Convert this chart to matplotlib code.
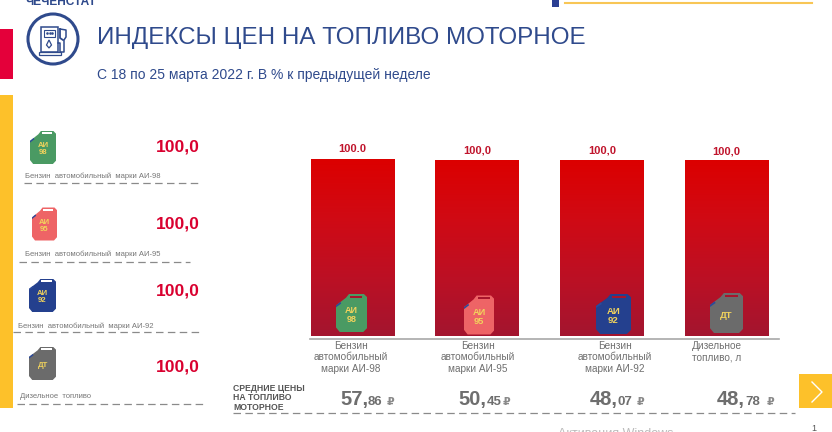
import numpy as np
import matplotlib
matplotlib.use('Agg')
import matplotlib.pyplot as plt
from matplotlib.colors import LinearSegmentedColormap
from matplotlib.patches import Polygon, Rectangle, Circle

plt.rcParams['font.family'] = ['Liberation Sans', 'DejaVu Sans']

# данные
title = 'ИНДЕКСЫ ЦЕН НА ТОПЛИВО МОТОРНОЕ'
subtitle = 'С 18 по 25 марта 2022 г. В % к предыдущей неделе'
categories = ['Бензин\nавтомобильный\nмарки АИ-98', 'Бензин\nавтомобильный\nмарки АИ-95',
              'Бензин\nавтомобильный\nмарки АИ-92', 'Дизельное\nтопливо, л']
bar_values = [100.0, 99.4, 99.2, 98.9]
bar_labels = ['100.0', '100,0', '100,0', '100,0']
side_names = ['Бензин  автомобильный  марки АИ-98', 'Бензин  автомобильный  марки АИ-95',
              'Бензин  автомобильный  марки АИ-92', 'Дизельное  топливо']
side_values = ['100,0', '100,0', '100,0', '100,0']
price_rub = ['57', '50', '48', '48']
price_kop = ['86', '45', '07', '78']
can_labels = ['АИ\n98', 'АИ\n95', 'АИ\n92', 'ДТ']
can_colors = ['#4a9a63', '#ee6466', '#24408e', '#6b6b6b']

BLUE = '#2f4a8c'
GREY = '#6f6f6f'
RED = '#d9002f'
YELLOW = '#fdc12a'

fig = plt.figure(figsize=(8.32, 4.32), dpi=100)
bg = fig.add_axes([0, 0, 1, 1])
bg.set_xlim(0, 832)
bg.set_ylim(432, 0)
bg.axis('off')


def draw_can(ax, cx, cy, w, h, color, label, slot='white', zorder=5):
    # канистра: x,y в пикселях, центр (cx, cy)
    l, r = cx - w / 2, cx + w / 2
    t, b = cy - h / 2, cy + h / 2
    pts = [(l + w * 0.12, b), (l, b - h * 0.12), (l, t + h * 0.3), (l + w * 0.32, t + h * 0.1),
           (l + w * 0.42, t), (r - w * 0.1, t), (r, t + h * 0.08), (r, b - h * 0.1), (r - w * 0.12, b)]
    ax.add_patch(Polygon(pts, closed=True, fc=color, ec='none', zorder=zorder))
    ax.add_patch(Rectangle((l + w * 0.45, t + h * 0.04), w * 0.4, h * 0.055, fc=slot, ec='none', zorder=zorder + 1))
    ax.add_patch(Polygon([(l, t + h * 0.3), (l + w * 0.14, t + h * 0.21), (l + w * 0.17, t + h * 0.25), (l, t + h * 0.35)],
                         closed=True, fc='#2c4a9a', ec='none', zorder=zorder + 1))
    ax.text(cx, cy + h * 0.05, label, ha='center', va='center', color='#f2d35c', fontsize=h * 0.17,
            fontweight='bold', linespacing=1.0, zorder=zorder + 2)


# полосы слева и сверху
bg.add_patch(Rectangle((0, 29), 13, 50, fc='#e4003a', ec='none'))
bg.add_patch(Rectangle((0, 95), 13, 313, fc=YELLOW, ec='none'))
bg.add_patch(Rectangle((551.5, 0), 7.5, 7, fc='#2b3f93', ec='none'))
bg.plot([565, 812], [3, 3], color='#f8c655', lw=1.5)
bg.text(25, 5, 'ЧЕЧЕНСТАТ', color=BLUE, fontsize=8.6, fontweight='bold', ha='left', va='baseline')

# значок заправки
bg.add_patch(Circle((53, 39), 25, fc='white', ec=BLUE, lw=2.2))
bg.add_patch(Rectangle((41, 27), 17, 25, fc='none', ec=BLUE, lw=1.1))
bg.add_patch(Rectangle((44, 30), 11, 6.5, fc='none', ec=BLUE, lw=0.8))
bg.add_patch(Rectangle((38.5, 52), 22, 2.5, fc='none', ec=BLUE, lw=0.9))
bg.add_patch(Polygon([(49, 40), (51.5, 45), (49, 48), (46.5, 45)], closed=True, fc='none', ec=BLUE, lw=0.9))
bg.plot([47, 49.5, 52], [33, 33, 33], ls='none', marker='s', ms=0.8, color=BLUE)
bg.plot([58, 60, 60, 64, 64, 66, 66, 60], [43, 43, 52, 52, 40, 37, 30, 29], color=BLUE, lw=1.1)
bg.plot([60, 60, 63], [29, 38, 40], color=BLUE, lw=1.3)

bg.text(97, 38, title, color=BLUE, fontsize=17.4, ha='left', va='center')
bg.text(97, 75, subtitle, color=BLUE, fontsize=10, ha='left', va='center')

# левый список
can_y = [147.5, 224, 295.5, 363.5]
can_x = [43, 44.5, 42.5, 42.5]
can_w = [26, 25, 27, 27]
val_y = [147, 224, 291, 367]
name_x = [25, 25, 18, 20]
name_y = [176, 254, 326, 397]
line_x = [(24, 199), (19, 190), (13, 201), (17, 205)]
line_y = [183, 262, 332, 404]
for i in range(4):
    draw_can(bg, can_x[i], can_y[i], can_w[i], 33, can_colors[i], can_labels[i])
    bg.text(200, val_y[i], side_values[i], color=RED, fontsize=12.6, fontweight='bold', ha='right', va='center')
    bg.text(name_x[i], name_y[i], side_names[i], color='#777777', fontsize=5.5, ha='left', va='center')
    bg.plot(line_x[i], [line_y[i]] * 2, color='#8a8a8a', lw=0.9, dashes=(6, 3.5))

# столбцы
ax = fig.add_axes([310 / 832, (432 - 336) / 432, 469 / 832, 186 / 432])
ax.axis('off')
cmap = LinearSegmentedColormap.from_list('grad', ['#dc0000', '#d00a14', '#bc1024', '#a3152f'])
grad = np.linspace(0, 1, 256).reshape(-1, 1)
x_pos = np.arange(len(bar_values))
bars = ax.bar(x_pos, bar_values, width=0.67, color='none')
for b, v, lab in zip(bars, bar_values, bar_labels):
    im = ax.imshow(grad, cmap=cmap, aspect='auto', zorder=2,
                   extent=(b.get_x(), b.get_x() + b.get_width(), 0, v))
    ax.text(b.get_x() + b.get_width() / 2, v + 5.5, lab, ha='center', va='center',
            color='#c0142c', fontsize=8, fontweight='bold')
ax.set_xlim(-0.34, 3.42)
ax.set_ylim(0, 105.1)

top = fig.add_axes([0, 0, 1, 1])
top.set_xlim(0, 832)
top.set_ylim(432, 0)
top.axis('off')
top.patch.set_alpha(0)

bar_cans_x = [351.5, 479, 613.5, 726.5]
bar_cans_y = [313, 315, 314, 313]
bar_cans_w = [31, 30, 35, 33]
bar_cans_h = [38, 39, 40, 40]
for i in range(4):
    draw_can(top, bar_cans_x[i], bar_cans_y[i], bar_cans_w[i], bar_cans_h[i], can_colors[i], can_labels[i], slot='#a8142c')

top.plot([310, 779], [338.6, 338.6], color='#a8a8a8', lw=1.2)
cat_x = [351, 478, 615, 717]
for i, c in enumerate(categories):
    top.text(cat_x[i], 341, c, ha='center', va='top', color=GREY, fontsize=7.2, linespacing=1.16)

top.text(233, 398, 'СРЕДНИЕ ЦЕНЫ\nНА ТОПЛИВО\nМОТОРНОЕ', color='#555555', fontsize=6.2, fontweight='bold',
         ha='left', va='center', linespacing=1.05)
top.plot([233, 795], [413, 413], color='#8a8a8a', lw=0.9, dashes=(6, 3.5))
rub_x = [340, 458, 590, 717]
kop_x = [368, 487, 618, 745]
sign_x = [387, 503, 637, 767]
for i in range(4):
    top.text(rub_x[i], 405, price_rub[i] + ',', color='#6e6e6e', fontsize=14.5, fontweight='bold',
             ha='left', va='baseline')
    top.text(kop_x[i], 405, price_kop[i], color='#6e6e6e', fontsize=9.5, fontweight='bold', ha='left', va='baseline')
    top.text(sign_x[i], 405, '₽', color='#8a8a8a', fontsize=8, fontweight='bold', ha='left', va='baseline')

# кнопка
top.add_patch(Rectangle((799, 374), 33, 34, fc=YELLOW, ec='none'))
top.plot([812, 822, 812], [382, 392, 402], color='white', lw=1)
top.text(811, 431, '1', color='#555555', fontsize=6.5, ha='left', va='baseline')
top.text(558, 437, 'Активация Windows', color='#bbbbbb', fontsize=9, ha='left', va='baseline')

fig.savefig('out.png', dpi=100)
